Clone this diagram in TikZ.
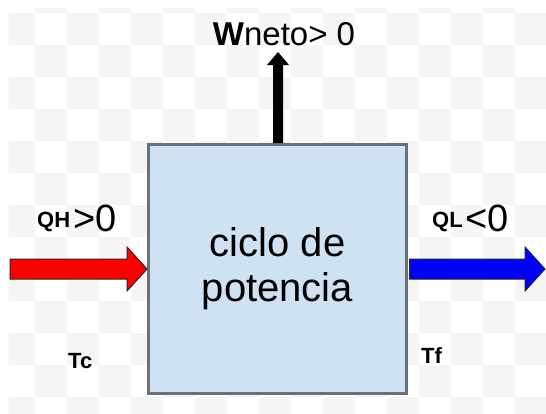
\documentclass[tikz,border=0pt]{standalone}
\usepackage{fontspec}
\setmainfont{Liberation Sans}
\usetikzlibrary{calc}
\definecolor{checker}{RGB}{245,245,245}
\definecolor{boxfill}{RGB}{207,226,243}
\definecolor{boxline}{RGB}{105,114,124}
\definecolor{qhot}{RGB}{255,0,0}
\definecolor{qcold}{RGB}{0,0,255}
\newcommand{\smallbold}{\fontsize{22}{22}\selectfont\bfseries}
\begin{document}
\begin{tikzpicture}[x=1pt,y=-1pt,
  cyclebox/.style={draw=boxline, fill=boxfill, line width=3pt,
    minimum width=258pt, minimum height=249pt, inner sep=0pt,
    align=center, font=\fontsize{40}{45}\selectfont},
  blockarrow/.style={draw=black!85, line width=1pt, line join=miter},
  lbl/.style={inner sep=0pt, anchor=base west, text=black}]
\useasboundingbox (0,0) rectangle (546,413);
\fill[white] (0,0) rectangle (546,413);
% faint checkerboard background
\begin{scope}
  \clip (8.5,8.5) rectangle (546,413);
  \foreach \i in {-1,...,16}{
    \foreach \j in {-1,...,12}{
      \pgfmathtruncatemacro\chk{mod(\i+\j+100,2)}
      \ifnum\chk=1
        \fill[checker] (35+32*\i,13+32*\j) rectangle ++(32,32);
      \fi
    }
  }
\end{scope}

% the power cycle
\node[cyclebox] (ciclo) at (277.5,269) {ciclo de\\potencia};

% heat in (hot side)
\coordinate (qinstart) at (10,269);
\draw[blockarrow, fill=qhot]
  ($(qinstart)+(0,-10)$) -- (127,259) -- (127,247) -- (ciclo.west)
  -- (127,291) -- (127,279) -- ($(qinstart)+(0,10)$) -- cycle;

% heat out (cold side)
\coordinate (qoutstart) at ($(ciclo.east)+(1.5,0)$);
\coordinate (qouttip) at (545,269);
\draw[blockarrow, fill=qcold]
  ($(qoutstart)+(0,-10)$) -- (525,259) -- (525,247) -- (qouttip)
  -- (525,291) -- (525,279) -- ($(qoutstart)+(0,10)$) -- cycle;

% net work out
\coordinate (wtip) at (278,52);
\fill[black] ($(ciclo.north)+(-4.5,0)$) -- (273,65) -- (267,65) -- (wtip)
  -- (289,65) -- (283,65) -- ($(ciclo.north)+(5.5,0)$) -- cycle;

% labels
\node[inner sep=0pt, anchor=base, font=\fontsize{33}{33}\selectfont] (wlabel)
  at (284,45) {\textbf{W}neto> 0};
\node[lbl] (qhlabel) at (37,231)
  {\raisebox{4pt}{\smallbold QH}\kern3pt\fontsize{38}{38}\selectfont>0};
\node[lbl] (qllabel) at (432,231)
  {\raisebox{4pt}{\smallbold QL}\kern3pt\fontsize{38}{38}\selectfont<0};
\node[lbl, font=\smallbold] (tclabel) at (68,368) {Tc};
\node[lbl, font=\smallbold] (tflabel) at (421,363) {Tf};
\end{tikzpicture}
\end{document}
